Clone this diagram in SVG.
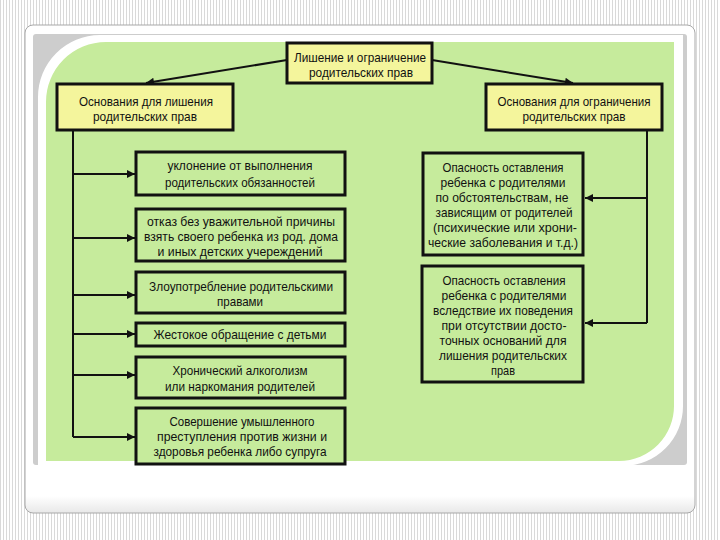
<svg xmlns="http://www.w3.org/2000/svg" width="720" height="540" viewBox="0 0 720 540">
<defs>
<pattern id="stripes" width="3" height="10" patternUnits="userSpaceOnUse">
<rect width="3" height="10" fill="#ffffff"/>
<rect x="0" width="1" height="10" fill="#d9d9d9"/>
</pattern>
<linearGradient id="cardg" x1="0" y1="0" x2="0" y2="1">
<stop offset="0.965" stop-color="#ffffff"/>
<stop offset="1" stop-color="#e8e8e8"/>
</linearGradient>
<marker id="ah" viewBox="0 0 10 10" refX="10" refY="5" markerWidth="11" markerHeight="8" markerUnits="userSpaceOnUse" orient="auto">
<path d="M0,0 L10,5 L0,10 Z" fill="#111"/>
</marker>
<style>
.bx{stroke:#111;stroke-width:3}
.yl{fill:#f4f59c}
.gr{fill:#c6eb9c}
.t{font-family:"Liberation Sans",Arial,sans-serif;font-size:13px;fill:#111;text-anchor:middle}
.ln{stroke:#111;stroke-width:2;fill:none}
.ar{stroke:#111;stroke-width:2;fill:none;marker-end:url(#ah)}
</style>
</defs>
<rect width="720" height="540" fill="url(#stripes)"/>
<rect x="25" y="25" width="670" height="488" rx="8" fill="url(#cardg)" stroke="#a8a8a8" stroke-width="1"/>
<rect x="33" y="34" width="654" height="431" rx="3" fill="#cdcdcd"/>
<path d="M38,97 A62,62 0 0 1 100,35 H683 V405 A60,60 0 0 1 623,466 H38 Z" fill="#ffffff"/>
<path d="M46,102 A60,60 0 0 1 106,42 H674 V405 A55,55 0 0 1 619,461 H46 Z" fill="#c6eb9c"/>

<g id="connectors">
<line class="ar" x1="287" y1="60" x2="146" y2="83"/>
<line class="ar" x1="432" y1="60" x2="573" y2="83"/>
<polyline class="ln" points="73,130 73,437"/>
<line class="ar" x1="73" y1="174" x2="135" y2="174"/>
<line class="ar" x1="73" y1="238" x2="135" y2="238"/>
<line class="ar" x1="73" y1="295" x2="135" y2="295"/>
<line class="ar" x1="73" y1="334" x2="135" y2="334"/>
<line class="ar" x1="73" y1="375" x2="135" y2="375"/>
<line class="ar" x1="73" y1="437" x2="135" y2="437"/>
<polyline class="ln" points="647,130 647,323"/>
<line class="ar" x1="647" y1="198" x2="585" y2="198"/>
<line class="ar" x1="647" y1="323" x2="585" y2="323"/>
</g>

<g id="top">
<rect class="bx yl" x="287" y="43" width="145" height="40"/>
<text class="t" x="360" y="62" textLength="132" lengthAdjust="spacingAndGlyphs">Лишение и ограничение</text>
<text class="t" x="361" y="77" textLength="104" lengthAdjust="spacingAndGlyphs">родительских прав</text>
</g>
<g id="left-head">
<rect class="bx yl" x="57" y="84" width="176" height="46"/>
<text class="t" x="146" y="106" textLength="134" lengthAdjust="spacingAndGlyphs">Основания для лишения</text>
<text class="t" x="145" y="121" textLength="104" lengthAdjust="spacingAndGlyphs">родительских прав</text>
</g>
<g id="right-head">
<rect class="bx yl" x="486" y="84" width="176" height="46"/>
<text class="t" x="574" y="106" textLength="153" lengthAdjust="spacingAndGlyphs">Основания для ограничения</text>
<text class="t" x="574" y="121" textLength="103" lengthAdjust="spacingAndGlyphs">родительских прав</text>
</g>

<g id="l1">
<rect class="bx gr" x="136" y="152" width="209" height="43"/>
<text class="t" x="240" y="170" textLength="145" lengthAdjust="spacingAndGlyphs">уклонение от выполнения</text>
<text class="t" x="240" y="187" textLength="150" lengthAdjust="spacingAndGlyphs">родительских обязанностей</text>
</g>
<g id="l2">
<rect class="bx gr" x="136" y="209" width="209" height="52"/>
<text class="t" x="241" y="226" textLength="188" lengthAdjust="spacingAndGlyphs">отказ без уважительной причины</text>
<text class="t" x="241" y="241" textLength="194" lengthAdjust="spacingAndGlyphs">взять своего ребенка из род. дома</text>
<text class="t" x="240" y="256" textLength="165" lengthAdjust="spacingAndGlyphs">и иных детских учереждений</text>
</g>
<g id="l3">
<rect class="bx gr" x="136" y="272" width="209" height="41"/>
<text class="t" x="241" y="291" textLength="184" lengthAdjust="spacingAndGlyphs">Злоупотребление родительскими</text>
<text class="t" x="240" y="306" textLength="46" lengthAdjust="spacingAndGlyphs">правами</text>
</g>
<g id="l4">
<rect class="bx gr" x="136" y="323" width="209" height="23"/>
<text class="t" x="240" y="339" textLength="173" lengthAdjust="spacingAndGlyphs">Жестокое обращение с детьми</text>
</g>
<g id="l5">
<rect class="bx gr" x="136" y="357" width="209" height="41"/>
<text class="t" x="240" y="375" textLength="135" lengthAdjust="spacingAndGlyphs">Хронический алкоголизм</text>
<text class="t" x="240" y="391" textLength="150" lengthAdjust="spacingAndGlyphs">или наркомания родителей</text>
</g>
<g id="l6">
<rect class="bx gr" x="136" y="408" width="209" height="56"/>
<text class="t" x="242" y="426" textLength="145" lengthAdjust="spacingAndGlyphs">Совершение умышленного</text>
<text class="t" x="242" y="441" textLength="170" lengthAdjust="spacingAndGlyphs">преступления против жизни и</text>
<text class="t" x="240" y="456" textLength="173" lengthAdjust="spacingAndGlyphs">здоровья ребенка либо супруга</text>
</g>

<g id="r1">
<rect class="bx gr" x="423" y="153" width="160" height="102"/>
<text class="t" x="503" y="172" textLength="121" lengthAdjust="spacingAndGlyphs">Опасность оставления</text>
<text class="t" x="503" y="187" textLength="125" lengthAdjust="spacingAndGlyphs">ребенка с родителями</text>
<text class="t" x="502" y="202" textLength="133" lengthAdjust="spacingAndGlyphs">по обстоятельствам, не</text>
<text class="t" x="504" y="217" textLength="137" lengthAdjust="spacingAndGlyphs">зависящим от родителей</text>
<text class="t" x="505" y="232" textLength="144" lengthAdjust="spacingAndGlyphs">(психические или хрони-</text>
<text class="t" x="503" y="247" textLength="150" lengthAdjust="spacingAndGlyphs">ческие заболевания и т.д.)</text>
</g>
<g id="r2">
<rect class="bx gr" x="422" y="266" width="161" height="116"/>
<text class="t" x="504" y="285" textLength="123" lengthAdjust="spacingAndGlyphs">Опасность оставления</text>
<text class="t" x="504" y="300" textLength="125" lengthAdjust="spacingAndGlyphs">ребенка с родителями</text>
<text class="t" x="503" y="315" textLength="140" lengthAdjust="spacingAndGlyphs">вследствие их поведения</text>
<text class="t" x="504" y="330" textLength="125" lengthAdjust="spacingAndGlyphs">при отсутствии досто-</text>
<text class="t" x="503" y="345" textLength="127" lengthAdjust="spacingAndGlyphs">точных оснований для</text>
<text class="t" x="503" y="360" textLength="128" lengthAdjust="spacingAndGlyphs">лишения родительских</text>
<text class="t" x="503" y="375" textLength="24" lengthAdjust="spacingAndGlyphs">прав</text>
</g>
</svg>
